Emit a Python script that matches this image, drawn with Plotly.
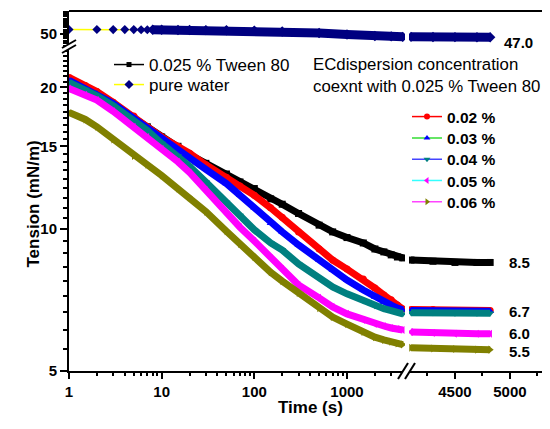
import math
import plotly.graph_objects as go

# ---------------- data ----------------
time_left = [1, 1.5, 2, 3, 5, 7, 10, 15, 20, 30, 50, 70, 100, 150, 200, 300,
             500, 700, 1000, 1500, 2000, 2500, 3000, 3500, 4000]
time_right = [4100, 4300, 4500, 4700, 4820]

tween_left = [20.5, 19.8, 19.3, 18.4, 17.2, 16.5, 15.7, 15.0, 14.4, 13.8, 13.1, 12.6, 12.2,
              11.6, 11.3, 10.8, 10.2, 9.87, 9.6, 9.35, 9.08, 8.95, 8.82, 8.73, 8.69]
tween_right = [8.6, 8.55, 8.5, 8.5, 8.5]

c002_left = [21.0, 20.2, 19.6, 18.6, 17.4, 16.5, 15.7, 15.0, 14.5, 13.7, 12.9, 12.35, 11.8,
             11.1, 10.6, 9.87, 9.08, 8.6, 8.23, 7.84, 7.5, 7.25, 7.08, 6.9, 6.77]
c002_right = [6.75, 6.75, 6.72, 6.72, 6.72]

c003_left = [20.7, 19.9, 19.4, 18.5, 17.2, 16.4, 15.5, 14.7, 14.2, 13.4, 12.5, 11.8, 11.1,
             10.3, 9.87, 9.26, 8.6, 8.19, 7.8, 7.43, 7.18, 7.0, 6.9, 6.8, 6.74]
c003_right = [6.72, 6.72, 6.7, 6.7, 6.7]

c004_left = [20.5, 19.8, 19.2, 18.3, 17.0, 16.2, 15.2, 14.3, 13.6, 12.6, 11.4, 10.7, 9.97,
             9.35, 9.03, 8.44, 7.88, 7.54, 7.29, 7.05, 6.88, 6.78, 6.72, 6.66, 6.61]
c004_right = [6.65, 6.65, 6.63, 6.63, 6.63]

c005_left = [19.9, 19.3, 18.8, 17.8, 16.5, 15.7, 14.8, 13.9, 13.2, 12.1, 10.8, 10.1, 9.44,
             8.69, 8.23, 7.61, 7.15, 6.84, 6.61, 6.42, 6.29, 6.23, 6.17, 6.14, 6.11]
c005_right = [6.05, 6.02, 6.0, 6.0, 6.0]

c006_left = [17.7, 17.1, 16.5, 15.5, 14.3, 13.7, 13.0, 12.2, 11.7, 10.9, 9.9, 9.3, 8.73,
             8.1, 7.76, 7.32, 6.8, 6.51, 6.29, 6.05, 5.9, 5.82, 5.77, 5.72, 5.69]
c006_right = [5.6, 5.58, 5.57, 5.55, 5.55]

water_time_left = [1, 2, 3, 4, 5, 6, 7, 8, 10, 15, 20, 30, 50, 100, 200, 500,
                   1000, 2000, 3000, 4000]
water_left = [54.1, 54.1, 54.0, 54.0, 54.0, 53.9, 53.9, 53.9, 53.8, 53.7, 53.6, 53.5, 53.4,
              53.1, 52.3, 50.9, 49.5, 48.2, 47.8, 47.4]
water_time_right = [4100, 4300, 4500, 4700, 4820]
water_right = [47.4, 47.3, 47.2, 47.1, 47.0]

series_names = ["0.02 %", "0.03 %", "0.04 %", "0.05 %", "0.06 %"]
end_labels = ["8.5", "6.7", "6.0", "5.5"]
water_label = "47.0"

x_ticks_left = [1, 10, 100, 1000]
x_ticks_right = [4500, 5000]
y_ticks_low = [5, 10, 15, 20]
y_ticks_high = [50]

# ---------------- geometry ----------------
FONT = "Liberation Sans, Arial, sans-serif"
WIN_W, WIN_H = 550, 429
OFF = 8                      # default page margin of the html body
ML, MT, MB = 69, 11, 58      # plot area edges in window pixels
PW, PH = WIN_W - ML, WIN_H - MT - MB   # 481 x 360


def px_x(px):
    return (px - ML) / PW


def px_y(py):
    return (MT + PH - py) / PH


fig = go.Figure()


def band(x, y, color, symbol, xa, ya, size=7, width=7):
    fig.add_trace(go.Scatter(x=x, y=y, mode="lines+markers",
                             line=dict(color=color, width=width),
                             marker=dict(symbol=symbol, size=size, color=color),
                             xaxis=xa, yaxis=ya, showlegend=False, hoverinfo="skip"))


styles = [
    (tween_left, tween_right, "#000000", "square"),
    (c002_left, c002_right, "#FF0000", "circle"),
    (c003_left, c003_right, "#0000FF", "triangle-up"),
    (c004_left, c004_right, "#008080", "triangle-down"),
    (c005_left, c005_right, "#FF00FF", "triangle-left"),
    (c006_left, c006_right, "#808000", "triangle-right"),
]
for yl, yr, col, sym in styles:
    band(time_left, yl, col, sym, "x", "y")
    band(time_right, yr, col, sym, "x2", "y")

# pure water: yellow connecting line with diamonds, navy band for the dense part
fig.add_trace(go.Scatter(x=water_time_left, y=water_left, mode="lines+markers",
                         line=dict(color="#FFFF00", width=1.5),
                         marker=dict(symbol="diamond", size=7, color="#000080"),
                         xaxis="x", yaxis="y2", showlegend=False, hoverinfo="skip"))
k = water_time_left.index(8)
band(water_time_left[k:], water_left[k:], "#000080", "diamond", "x", "y2", size=8, width=9)
band(water_time_right, water_right, "#000080", "diamond", "x2", "y2", size=8, width=9)

# ---------------- legends (one per row for exact spacing) ----------------
legend_layout = {}


def leg_entry(idx, name, lc, mc, sym, msize, text_x, row_y, fsize, bold):
    key = "legend" if idx == 1 else f"legend{idx}"
    fig.add_trace(go.Scatter(x=[None], y=[None], mode="lines+markers", name=name,
                             line=dict(color=lc, width=1.5),
                             marker=dict(symbol=sym, size=msize, color=mc), legend=key))
    legend_layout[key] = dict(x=px_x(text_x - 41), y=px_y(row_y), xanchor="left",
                              yanchor="middle", bgcolor="rgba(0,0,0,0)", itemwidth=30,
                              font=dict(family=FONT, size=fsize, color="black",
                                        weight="bold" if bold else "normal"))


leg_entry(1, "0.025 % Tween 80", "black", "black", "square", 5, 150, 65, 17, False)
leg_entry(2, "pure water", "#FFFF00", "#000080", "diamond", 7, 150, 85, 17, False)

leg2 = [("#FF0000", "#FF0000", "circle"), ("#33DD33", "#0000FF", "triangle-up"),
        ("#4444FF", "#008080", "triangle-down"), ("#33FFFF", "#FF00FF", "triangle-left"),
        ("#FF44FF", "#808000", "triangle-right")]
for i, (name, (lc, mc, sym)) in enumerate(zip(series_names, leg2)):
    leg_entry(3 + i, name, lc, mc, sym, 6, 448, 117 + 21.3 * i, 15.5, True)

# ---------------- axes ----------------
axis_common = dict(showline=True, linewidth=2, linecolor="black", showgrid=False, zeroline=False,
                   automargin=False,
                   ticks="outside", ticklen=6, tickwidth=2, tickcolor="black",
                   tickfont=dict(family=FONT, size=15, color="black", weight="bold"))

x_minor_left = [m * 10 ** d for d in range(0, 3) for m in range(2, 10)] + [2000, 3000, 4000]
y_minor_low = [5 + i * 5 / 9 for i in range(1, 37) if i % 9 != 0]
y_minor_high = [v for v in range(42, 71, 2) if v != 50]

fig.update_layout(
    template="none",
    font=dict(family=FONT, color="black"),
    width=WIN_W - OFF, height=WIN_H - OFF,
    margin=dict(l=ML - OFF, r=0, t=MT - OFF, b=MB, pad=0, autoexpand=False),
    plot_bgcolor="white", paper_bgcolor="white",
    xaxis=dict(axis_common, type="log", domain=[0, px_x(405)], range=[0, 3.626], anchor="y",
               tickmode="array", tickvals=x_ticks_left, ticktext=[str(v) for v in x_ticks_left],
               minor=dict(tickmode="array", tickvals=x_minor_left, ticks="outside", ticklen=3,
                          tickwidth=1.5, tickcolor="black")),
    xaxis2=dict(axis_common, type="linear", domain=[px_x(409), 1], range=[4082, 5364], anchor="y",
                tickmode="array", tickvals=x_ticks_right,
                minor=dict(tickmode="array", tickvals=[4250, 4750, 5250], ticks="outside",
                           ticklen=3, tickwidth=1.5, tickcolor="black")),
    yaxis=dict(axis_common, type="log", domain=[0, px_y(46)],
               range=[math.log10(5), math.log10(5) + 325 / 471], anchor="x",
               tickmode="array", tickvals=y_ticks_low, ticklen=7,
               minor=dict(tickmode="array", tickvals=y_minor_low, ticks="outside", ticklen=4,
                          tickwidth=1.5, tickcolor="black")),
    yaxis2=dict(axis_common, type="linear", domain=[px_y(44), 1], range=[40.91, 70.91], anchor="x",
                tickmode="array", tickvals=y_ticks_high, ticklen=7,
                minor=dict(tickmode="array", tickvals=y_minor_high, ticks="outside", ticklen=4,
                           tickwidth=1.5, tickcolor="black")),
    **legend_layout,
)

# ---------------- frame, breaks ----------------
shapes = [dict(type="line", xref="paper", yref="paper", x0=0, x1=1, y0=1, y1=1,
               line=dict(color="black", width=2))]


def brk(p1, p2, p3, p4):
    pts = [p1, p2, p3, p4]
    path = "M " + " L ".join(f"{px_x(a)},{px_y(b)}" for a, b in pts) + " Z"
    shapes.append(dict(type="path", xref="paper", yref="paper", path=path,
                       fillcolor="white", line=dict(width=0), layer="above"))
    for a, b in [(p1, p2), (p4, p3)]:
        shapes.append(dict(type="line", xref="paper", yref="paper",
                           x0=px_x(a[0]), y0=px_y(a[1]), x1=px_x(b[0]), y1=px_y(b[1]),
                           line=dict(color="black", width=2), layer="above"))


brk((62, 48), (76, 40), (76, 45), (62, 53))
brk((398, 379), (408, 363), (415, 363), (405, 379))
fig.update_layout(shapes=shapes)

# ---------------- annotations ----------------
ann = []
ann.append(dict(xref="paper", yref="paper", x=px_x(21), y=px_y(204), text="Tension (mN/m)",
                textangle=-90, showarrow=False,
                font=dict(family=FONT, size=17, weight="bold", color="black")))
ann.append(dict(xref="paper", yref="paper", x=px_x(310), y=px_y(419), text="Time (s)",
                showarrow=False, font=dict(family=FONT, size=17, weight="bold", color="black")))
ann.append(dict(xref="paper", yref="paper", x=px_x(311), y=px_y(75.5), xanchor="left",
                yanchor="middle", align="left",
                text="ECdispersion concentration<br>coexnt with 0.025 % Tween 80",
                showarrow=False, font=dict(family=FONT, size=16.8, color="black")))
for lab in end_labels:
    ann.append(dict(xref="x2", yref="y", x=4975, y=math.log10(float(lab)), text=lab,
                    xanchor="left", yanchor="middle", showarrow=False,
                    font=dict(family=FONT, size=15, weight="bold", color="black")))
ann.append(dict(xref="x2", yref="paper", x=4930, y=px_y(42), text=water_label,
                xanchor="left", yanchor="middle", showarrow=False,
                font=dict(family=FONT, size=15, weight="bold", color="black")))
fig.update_layout(annotations=ann)

fig.write_html("out.html")
